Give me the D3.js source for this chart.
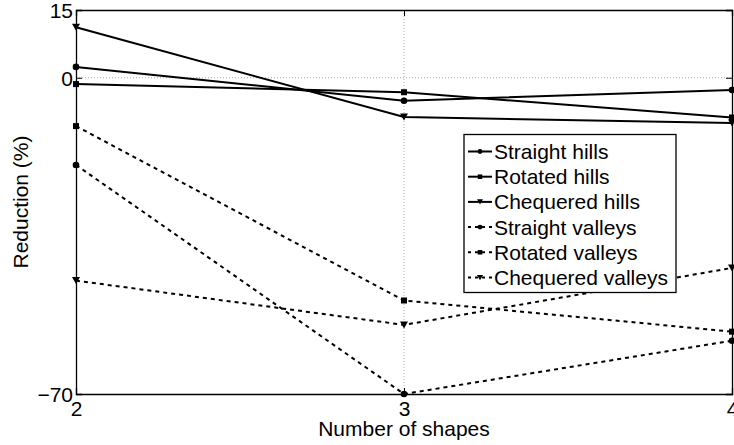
<!DOCTYPE html>
<html><head><meta charset="utf-8">
<script src="https://d3js.org/d3.v7.min.js"></script>
<style>body{margin:0;background:#fff}svg{display:block}text{font-family:"Liberation Sans",Arial,sans-serif}</style>
</head><body><svg id="c" width="734" height="445"></svg>
<script>
const xValues = [2, 3, 4];
const yTicks = [15, 0, -70];
const seriesNames = ["Straight hills","Rotated hills","Chequered hills","Straight valleys","Rotated valleys","Chequered valleys"];
const straightHills = [2.4, -5.1, -2.7];
const rotatedHills = [-1.4, -3.2, -8.8];
const chequeredHills = [11.2, -8.7, -10.0];
const straightValleys = [-19.3, -70, -58.2];
const rotatedValleys = [-10.7, -49.3, -56.2];
const chequeredValleys = [-44.9, -54.7, -42.1];
const seriesValues = [straightHills, rotatedHills, chequeredHills, straightValleys, rotatedValleys, chequeredValleys];
const markers = ["circle","square","triangle","circle","square","triangle"];
const dashed = [false,false,false,true,true,true];

const svg = d3.select("#c");
const L = 76, R = 732, T = 10, B = 394;
const FS = 21;
const x = d3.scaleLinear().domain([2,4]).range([L,R]);
const y = d3.scaleLinear().domain([-70,15]).range([B,T]);

// grid
svg.append("line").attr("x1",L).attr("x2",R).attr("y1",y(0)).attr("y2",y(0))
  .attr("stroke","#aaa").attr("stroke-width",1).attr("stroke-dasharray","1,2");
svg.append("line").attr("x1",x(3)).attr("x2",x(3)).attr("y1",T).attr("y2",B)
  .attr("stroke","#aaa").attr("stroke-width",1).attr("stroke-dasharray","1,2");

// axes
const yAxis = d3.axisLeft(y).tickValues(yTicks).tickSize(-6).tickPadding(3).tickFormat(d=> d<0 ? "\u2212"+Math.abs(d) : String(d));
const gy = svg.append("g").attr("transform",`translate(${L},0)`).call(yAxis);
const xAxis = d3.axisBottom(x).tickValues(xValues).tickSize(-6).tickPadding(7).tickFormat(d3.format("d"));
const gx = svg.append("g").attr("transform",`translate(0,${B})`).call(xAxis);
const gyr = svg.append("g").attr("transform",`translate(${R},0)`).call(d3.axisRight(y).tickValues(yTicks).tickSize(-6).tickFormat(""));
const gxt = svg.append("g").attr("transform",`translate(0,${T})`).call(d3.axisTop(x).tickValues(xValues).tickSize(-6).tickFormat(""));
[gy,gx,gyr,gxt].forEach(g=>{
  g.select(".domain").attr("stroke","#000").attr("stroke-width",1.3);
  g.selectAll(".tick line").attr("stroke","#000");
  g.selectAll("text").attr("font-size",FS).attr("fill","#000").attr("font-family",'"Liberation Sans",Arial,sans-serif');
});
gy.selectAll(".tick text").attr("dy","0.36em");

// labels
svg.append("text").attr("x",(L+R)/2).attr("y",436).attr("text-anchor","middle").attr("font-size",FS).text("Number of shapes");
svg.append("text").attr("transform",`translate(28,${(T+B)/2}) rotate(-90)`).attr("text-anchor","middle").attr("font-size",FS).text("Reduction (%)");

function drawMarker(g, type, cx, cy, s) {
  if (type==="circle") g.append("circle").attr("cx",cx).attr("cy",cy).attr("r",3.3*s).attr("fill","#000");
  else if (type==="square") g.append("rect").attr("x",cx-3*s).attr("y",cy-3*s).attr("width",6*s).attr("height",6*s).attr("fill","#000");
  else g.append("path").attr("d",`M${cx-4*s},${cy-3.5*s}L${cx+4*s},${cy-3.5*s}L${cx},${cy+3.5*s}Z`).attr("fill","#000");
}

const line = d3.line().x((d,i)=>x(xValues[i])).y(d=>y(d));
seriesValues.forEach((vals,k)=>{
  svg.append("path").attr("d",line(vals)).attr("fill","none").attr("stroke","#000")
    .attr("stroke-width",2).attr("stroke-dasharray",dashed[k]?"4,4":null);
  const g = svg.append("g");
  vals.forEach((v,i)=>drawMarker(g, markers[k], x(xValues[i]), y(v), 1));
});

// legend
const lg = svg.append("g");
lg.append("rect").attr("x",464).attr("y",134.5).attr("width",212).attr("height",158).attr("fill","#fff").attr("stroke","#000").attr("stroke-width",1.3);
seriesNames.forEach((n,k)=>{
  const cy = 151.5 + k*25.2;
  lg.append("line").attr("x1",468).attr("x2",492).attr("y1",cy).attr("y2",cy).attr("stroke","#000").attr("stroke-width",2).attr("stroke-dasharray",dashed[k]?"3,4":null);
  drawMarker(lg, markers[k], 480, cy, 0.75);
  lg.append("text").attr("x",494).attr("y",cy).attr("dy","0.36em").attr("font-size",FS).text(n);
});
</script></body></html>
